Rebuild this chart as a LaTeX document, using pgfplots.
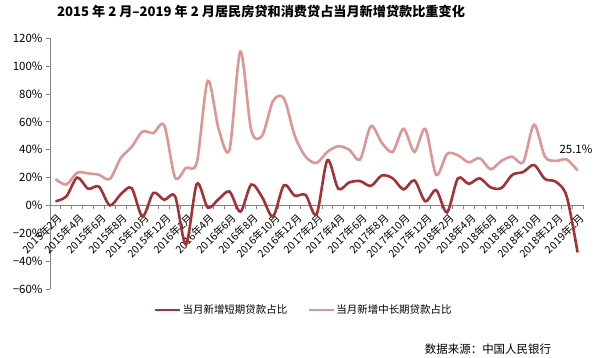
\documentclass[border=0pt]{standalone}
\usepackage{fontspec}
\setmainfont{Noto Sans CJK SC}
\usepackage{pgfplots}
\pgfplotsset{compat=1.18}
\definecolor{darkr}{RGB}{163,50,55}
\definecolor{pinkr}{RGB}{220,150,150}
\definecolor{axgray}{RGB}{134,134,134}
\begin{document}
\begin{tikzpicture}[x=1bp,y=1bp]
\useasboundingbox (0,0) rectangle (600,357);
\node[font=\bfseries\fontsize{13.2}{15}\selectfont] at (261,345) {2015 年 2 月–2019 年 2 月居民房贷和消费贷占当月新增贷款比重变化};
\begin{axis}[at={(50bp,68bp)}, anchor=south west, width=533bp, height=250.7bp, scale only axis,
 xmin=-0.5, xmax=48.5, ymin=-60, ymax=120,
 axis x line*=middle, axis y line*=left,
 tick align=outside,
 axis line style={axgray, line width=0.8bp},
 xtick={0,2,...,48},
 xticklabels={2015年2月,2015年4月,2015年6月,2015年8月,2015年10月,2015年12月,2016年2月,2016年4月,2016年6月,2016年8月,2016年10月,2016年12月,2017年2月,2017年4月,2017年6月,2017年8月,2017年10月,2017年12月,2018年2月,2018年4月,2018年6月,2018年8月,2018年10月,2018年12月,2019年2月},
 major x tick style={draw=none},
 minor xtick={-0.5,0.5,...,48.5},
 minor x tick style={axgray, line width=0.8bp},
 minor tick length=4bp, major tick length=4bp,
 ytick={-60,-40,...,120},
 yticklabels={−60\%,−40\%,−20\%,0\%,20\%,40\%,60\%,80\%,100\%,120\%},
 y tick style={axgray, line width=0.8bp},
 xticklabel style={rotate=45, anchor=north east, font=\fontsize{10.5}{12}\selectfont, inner sep=1bp, yshift=-2bp},
 yticklabel style={font=\fontsize{11.5}{13}\selectfont},
 legend columns=2,
 legend style={draw=none, fill=none, at={(0.19,-0.084)}, anchor=west, font=\fontsize{10.5}{12}\selectfont, /tikz/every even column/.append style={column sep=19bp}},
 legend image code/.code={\draw[#1, line width=1.2bp] (0bp,0bp) -- (25bp,0bp);},
 clip=false,
]
\addplot[darkr, line width=2.6bp, smooth] coordinates {
(0,3) (1,6.5) (2,20) (3,12) (4,13.5) (5,0) (6,8) (7,12.5) (8,-8) (9,9) (10,4) (11,6.5)
(12,-28) (13,15.5) (14,-1.5) (15,4.5) (16,10) (17,-4.5) (18,15) (19,6) (20,-8) (21,14.5) (22,7) (23,7.5)
(24,-6.5) (25,32.5) (26,12) (27,16.5) (28,17.5) (29,14) (30,21.5) (31,19.5) (32,11.5) (33,18) (34,3) (35,11)
(36,-5) (37,19.5) (38,15.5) (39,19.5) (40,13) (41,12.5) (42,22) (43,24) (44,29) (45,19) (46,17) (47,6.5) (48,-33.7)};
\addlegendentry{当月新增短期贷款占比}
\addplot[pinkr, line width=2.6bp, smooth] coordinates {
(0,19) (1,15) (2,23.5) (3,23) (4,22) (5,19) (6,34) (7,42) (8,53) (9,52) (10,57.5) (11,20)
(12,27) (13,31) (14,89.5) (15,55) (16,40) (17,110.5) (18,54) (19,50) (20,75) (21,77) (22,50) (23,35)
(24,30.5) (25,38.5) (26,42.5) (27,40) (28,33) (29,57) (30,45) (31,38.5) (32,55) (33,38.5) (34,55) (35,22)
(36,37) (37,36) (38,31) (39,34) (40,26) (41,32) (42,35) (43,31) (44,58) (45,35) (46,32) (47,33) (48,25.1)};
\addlegendentry{当月新增中长期贷款占比}
\node[font=\fontsize{11.5}{13}\selectfont] at (axis cs:47.85,40) {25.1\%};
\end{axis}
\node[font=\fontsize{11.5}{13}\selectfont] at (488,8) {数据来源：中国人民银行};
\end{tikzpicture}
\end{document}
